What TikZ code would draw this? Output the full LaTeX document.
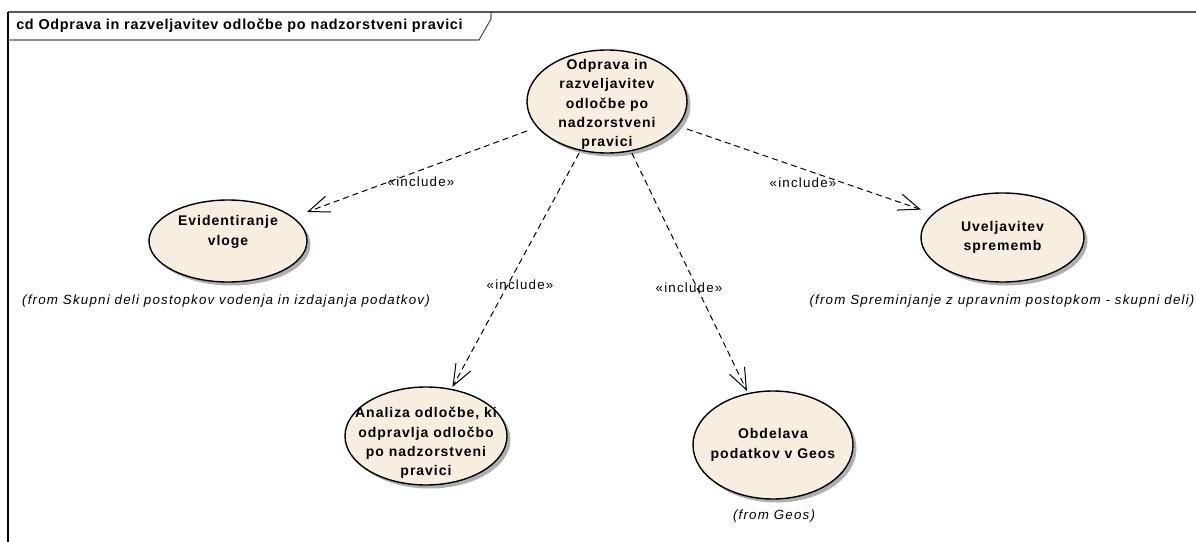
\documentclass[tikz,border=0pt]{standalone}
\usepackage{fontspec}
\setmainfont{Liberation Sans}
\newfontfamily\ucfont{Liberation Sans}[LetterSpace=7]
\newfontfamily\lblfont{Liberation Sans}[LetterSpace=9]
\newfontfamily\titlefont{Liberation Sans}[LetterSpace=5]
\usetikzlibrary{arrows.meta}
\definecolor{ucfill}{RGB}{248,238,224}
\definecolor{ucshadow}{RGB}{175,175,175}
\definecolor{framegray}{RGB}{85,85,85}

% use case: name, cx, cy, rx, ry, text offset, text
\newcommand{\usecase}[7]{%
  \fill[ucshadow] (#2+3.5,#3+3.5) ellipse ({#4} and {#5});
  \filldraw[ucline] (#2,#3) ellipse ({#4} and {#5});
  \node[ucbox, minimum width={2*#4*0.75pt}, minimum height={2*#5*0.75pt}] (#1) at (#2,#3) {};
  \node[uctext] (#1-t) at (#2,#3+#6) {#7};
}

\begin{document}
\begin{tikzpicture}[x=0.75pt,y=-0.75pt,
  ucline/.style={fill=ucfill, draw=black, line width=1.05pt},
  ucbox/.style={rectangle, inner sep=0pt, outer sep=0pt, draw=none},
  uctext/.style={align=center, inner sep=0pt, font=\ucfont\fontsize{10.5}{14.5}\selectfont\bfseries},
  include/.style={draw=black, line width=0.75pt, dash pattern=on 4.5pt off 3pt,
    -{Straight Barb[length=16pt, width=12.5pt, line width=0.75pt]}},
  inclabel/.style={inner sep=0pt, font=\lblfont\fontsize{10}{12}\selectfont},
  fromlabel/.style={inner sep=0pt, font=\lblfont\fontsize{10}{12}\selectfont\itshape},
  titletext/.style={inner sep=0pt, anchor=west, font=\titlefont\fontsize{10.8}{13}\selectfont\bfseries}]

\useasboundingbox (0,0) rectangle (1196,542);
\clip (0,0) rectangle (1196,542);
\fill[white] (0,0) rectangle (1196,542);

% diagram frame and its name tab
\draw[framegray, line width=1pt] (8,12) -- (1200,12);
\draw[black, line width=1.2pt] (8,12) -- (8,545);
\draw[framegray, line width=0.8pt] (8,40) -- (479,40) -- (491,19) -- (491,12);
\node[titletext] (title) at (16,26) {cd Odprava in razveljavitev odločbe po nadzorstveni pravici};

% use cases
\usecase{top}{607}{101.5}{80}{51.5}{3}{Odprava in\\razveljavitev\\odločbe po\\nadzorstveni\\pravici}
\usecase{evid}{228}{241}{79}{41}{-9}{Evidentiranje\\vloge}
\usecase{uvel}{1002.5}{237.5}{81.5}{44.5}{0}{Uveljavitev\\sprememb}
\usecase{anal}{426}{436}{81}{49}{7}{Analiza odločbe, ki\\odpravlja odločbo\\po nadzorstveni\\pravici}
\usecase{obd}{773}{445}{80}{54}{0}{Obdelava\\podatkov v Geos}

% include relations
\draw[include] (top) -- (evid);
\draw[include] (top) -- (anal);
\draw[include] (top) -- (obd);
\draw[include] (top) -- (uvel);

\node[inclabel] (l-evid) at (421,182) {«include»};
\node[inclabel] (l-anal) at (520,285) {«include»};
\node[inclabel] (l-obd) at (689,288) {«include»};
\node[inclabel] (l-uvel) at (803,183) {«include»};

% owning packages
\node[fromlabel] (f-evid) at (226,301) {(from Skupni deli postopkov vodenja in izdajanja podatkov)};
\node[fromlabel] (f-uvel) at (1002,301) {(from Spreminjanje z upravnim postopkom - skupni deli)};
\node[fromlabel] (f-obd) at (774,516) {(from Geos)};
\end{tikzpicture}
\end{document}
